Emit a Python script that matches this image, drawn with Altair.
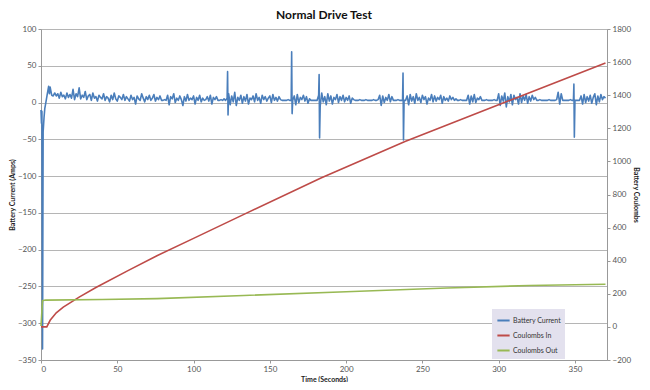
import altair as alt
import pandas as pd

# ---- Battery current (Amps), left axis ----
time_start = [0, 0.3, 0.6, 1, 1.4, 2, 2.5, 3, 4, 5, 5.5, 6, 7, 8, 9]
current_start = [-10, -28, -12, -335, -40, -20, -8, -2, 10, 22, 12, 21, 10, 9, 13]

time_main = list(range(10, 371))
current_main = (
    [9, 12, 6, 14, 8, 10, 5, 13, 7, 11]        # 10-19
    + [6, 18, 4, 12, 8, 20, 5, 10, 7, 15]      # 20-29
    + [4, 9, 11, 3, 13, 6, 8, 2, 10, 7]        # 30-39
    + [5, 12, 3, 8, 6, 1, 10, 4, 13, 5]        # 40-49
    + [2, 9, 7, 4, 11, 3, 8, 5, 2, 10]         # 50-59
    + [4, 7, -2, 9, 5, 3, 12, 6, 1, 8]         # 60-69
    + [4, 10, 3, 6, 11, 2, 7, 4, 9, 3]         # 70-79
    + [3, 4, 3, 10, -3, 8, 5, 12, 0, 6]        # 80-89
    + [3, 9, 4, -4, 8, 2, 11, 3, 6, 4]         # 90-99
    + [9, -2, 7, 3, 10, 1, 6, 3, 4, 8]         # 100-109
    + [2, 10, -2, 7, 4, 8, 3, 3, 4, 3]         # 110-119
    + [5, 3, 6, 12, -3, 9, 1, 14, -4, 7]       # 120-129
    + [3, 10, -1, 8, 2, 11, -2, 6, 4, 9]       # 130-139
    + [1, 12, 3, 7, -1, 10, 4, 8, 2, 6]        # 140-149
    + [9, 0, 11, 3, 7, 2, 8, 4, 3, 3]          # 150-159
    + [3, 3, 4, 3, 3, 3, 9, -3, 11, 0]         # 160-169
    + [7, 4, 10, 2, 8, -1, 5, 3, 3, 3]         # 170-179
    + [3, 3, 10, -5, 13, 1, 8, -3, 12, 2]      # 180-189
    + [9, -2, 7, 4, 11, 0, 8, 3, 10, 1]        # 190-199
    + [7, 3, 9, -1, 6, 4, 3, 3, 3, 4]          # 200-209
    + [3, 3, 3, 4, 3, 3, 3, 3, 4, 3]           # 210-219
    + [3, 4, 10, -4, 9, 0, 7, 3, 11, 1]        # 220-229
    + [8, 3, 3, 3, 4, 3, 3, 3, 3, 3]           # 230-239
    + [9, -3, 11, 2, 8, -1, 12, 3, 7, 0]       # 240-249
    + [10, 4, 8, -2, 6, 3, 11, 1, 9, 2]        # 250-259
    + [7, 4, 10, -1, 8, 3, 6, 2, 9, 4]         # 260-269
    + [7, 3, 5, 3, 3, 4, 3, 3, 3, 3]           # 270-279
    + [10, -2, 9, 1, 11, 0, 6, 4, 8, 3]        # 280-289
    + [3, 3, 4, 3, 3, 3, 3, 4, 3, 3]           # 290-299
    + [12, -4, 9, 2, 13, -6, 8, 1, 11, -3]     # 300-309
    + [10, 4, 7, -2, 12, 0, 9, 3, 11, -1]      # 310-319
    + [8, 2, 10, 4, 7, 3, 3, 4, 3, 3]          # 320-329
    + [3, 3, 3, 4, 3, 3, 3, 3, 4, 14]          # 330-339
    + [-2, 12, 3, 3, 3, 3, 3, 4, 3, 3]         # 340-349
    + [3, 3, 3, 3, 9, -2, 11, 0, 8, 2]         # 350-359
    + [10, -1, 7, 12, -3, 9, 1, 11, 4, 8]      # 360-369
    + [6]                                      # 370
)

spike_time = [122.3, 122.6, 164.3, 164.6, 182.3, 182.6, 237.3, 237.6, 349.3, 349.6]
spike_current = [42, -17, 69, -15, 38, -48, 40, -51, 25, -47]

# ---- Coulombs, right axis ----
in_time = [0, 3.8, 6, 10, 14.6, 25, 36, 57, 76, 100, 133, 183.5, 238.6, 302, 370]
coulombs_in = [0, 0, 40, 85, 120, 180, 238, 340, 430, 535, 680, 900, 1120, 1350, 1594]

out_time = [0, 1, 3, 40, 76, 133, 200, 266, 320, 370]
coulombs_out = [5, 158, 162, 166, 171, 190, 212, 235, 250, 258]

series_names = ["Battery Current", "Coulombs In", "Coulombs Out"]
series_colors = ["#4a7ebb", "#be4b48", "#98b954"]

x_ticks = [0, 50, 100, 150, 200, 250, 300, 350]
left_ticks = [-350, -300, -250, -200, -150, -100, -50, 0, 50, 100]
right_ticks = [-200, 0, 200, 400, 600, 800, 1000, 1200, 1400, 1600, 1800]

FONT = "Lato"

df_cur = pd.DataFrame({
    "time": time_start + time_main + spike_time,
    "value": current_start + current_main + spike_current,
})
df_cur = df_cur.sort_values("time").reset_index(drop=True)
df_cur["series"] = series_names[0]
df_cur["order"] = range(len(df_cur))

df_coul = pd.concat([
    pd.DataFrame({"time": in_time, "value": coulombs_in, "series": series_names[1]}),
    pd.DataFrame({"time": out_time, "value": coulombs_out, "series": series_names[2]}),
], ignore_index=True)

color = alt.Color(
    "series:N",
    scale=alt.Scale(domain=series_names, range=series_colors),
    legend=alt.Legend(
        title=None, orient="none", legendX=451, legendY=280,
        fillColor="#e3e1ee", padding=4, symbolType="stroke",
        symbolStrokeWidth=2, symbolSize=150, labelFontSize=7, labelFont=FONT,
        labelColor="#333333", rowPadding=3, labelOffset=2,
    ),
)

axis_common = dict(
    labelFont=FONT, labelFontSize=8, labelColor="#555555",
    titleFont=FONT, titleFontSize=7, titleFontWeight="bold", titleColor="#222222",
    domainColor="#999999", tickColor="#999999", tickSize=3, labelPadding=2,
    titlePadding=2,
)

x_enc = alt.X(
    "time:Q",
    scale=alt.Scale(domain=[0, 371], nice=False, zero=False),
    axis=alt.Axis(values=x_ticks, title="Time (Seconds)", grid=False, **axis_common),
)

blue = alt.Chart(df_cur).mark_line(strokeWidth=1.6, strokeJoin="round").encode(
    x=x_enc,
    y=alt.Y(
        "value:Q",
        scale=alt.Scale(domain=[-350, 100], nice=False, zero=False),
        axis=alt.Axis(
            values=left_ticks, orient="left", title="Battery Current (Amps)",
            grid=True, gridColor="#b5b5b5", gridWidth=1, format="d", **axis_common,
        ),
    ),
    color=color,
    order="order:Q",
)

coul = alt.Chart(df_coul).mark_line(strokeWidth=1.6).encode(
    x=x_enc,
    y=alt.Y(
        "value:Q",
        scale=alt.Scale(domain=[-200, 1800], nice=False, zero=False),
        axis=alt.Axis(
            values=right_ticks, orient="right", title="Battery Coulombs",
            grid=False, format="d", **axis_common,
        ),
    ),
    color=color,
)

chart = (
    alt.layer(blue, coul)
    .resolve_scale(y="independent")
    .properties(
        width=566, height=331,
        autosize=alt.AutoSizeParams(type="none"),
        padding={"left": 33, "top": 21, "right": 35, "bottom": 22},
        title=alt.TitleParams(
            "Normal Drive Test", font=FONT, fontSize=12, fontWeight="bold",
            color="#111111", anchor="middle", offset=3,
        ),
    )
    .configure_view(stroke=None)
    .configure(background="white")
)

chart.save("out.html", embed_options={"renderer": "svg", "actions": False})
